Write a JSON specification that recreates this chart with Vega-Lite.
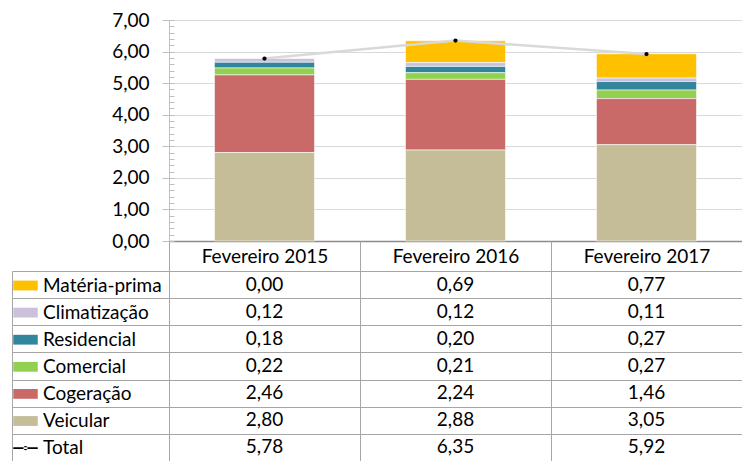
{
  "$schema": "https://vega.github.io/schema/vega-lite/v6.json",
  "padding": {"left": 11, "top": 11, "right": 0, "bottom": 0},
  "config": {
    "view": {"stroke": null},
    "locale": {"number": {"decimal": ",", "thousands": ".", "grouping": [3], "currency": ["R$", ""]}},
    "font": "Lato",
    "axis": {"labelFont": "Lato", "labelFontSize": 19, "labelColor": "#000000"}
  },
  "datasets": {
    "d": [
      {"cat": "Fevereiro 2015", "serie": "Matéria-prima", "valor": 0.00},
      {"cat": "Fevereiro 2015", "serie": "Climatização", "valor": 0.12},
      {"cat": "Fevereiro 2015", "serie": "Residencial", "valor": 0.18},
      {"cat": "Fevereiro 2015", "serie": "Comercial", "valor": 0.22},
      {"cat": "Fevereiro 2015", "serie": "Cogeração", "valor": 2.46},
      {"cat": "Fevereiro 2015", "serie": "Veicular", "valor": 2.80},
      {"cat": "Fevereiro 2015", "serie": "Total", "valor": 5.78},
      {"cat": "Fevereiro 2016", "serie": "Matéria-prima", "valor": 0.69},
      {"cat": "Fevereiro 2016", "serie": "Climatização", "valor": 0.12},
      {"cat": "Fevereiro 2016", "serie": "Residencial", "valor": 0.20},
      {"cat": "Fevereiro 2016", "serie": "Comercial", "valor": 0.21},
      {"cat": "Fevereiro 2016", "serie": "Cogeração", "valor": 2.24},
      {"cat": "Fevereiro 2016", "serie": "Veicular", "valor": 2.88},
      {"cat": "Fevereiro 2016", "serie": "Total", "valor": 6.35},
      {"cat": "Fevereiro 2017", "serie": "Matéria-prima", "valor": 0.77},
      {"cat": "Fevereiro 2017", "serie": "Climatização", "valor": 0.11},
      {"cat": "Fevereiro 2017", "serie": "Residencial", "valor": 0.27},
      {"cat": "Fevereiro 2017", "serie": "Comercial", "valor": 0.27},
      {"cat": "Fevereiro 2017", "serie": "Cogeração", "valor": 1.46},
      {"cat": "Fevereiro 2017", "serie": "Veicular", "valor": 3.05},
      {"cat": "Fevereiro 2017", "serie": "Total", "valor": 5.92}
    ]
  },
  "spacing": 30,
  "bounds": "flush",
  "resolve": {
    "scale": {"color": "independent", "shape": "independent"},
    "legend": {"color": "independent", "shape": "independent"}
  },
  "vconcat": [
    {
      "width": 573,
      "height": 221,
      "data": {"name": "d"},
      "layer": [
        {
          "transform": [
            {"filter": "datum.serie !== 'Total'"},
            {"calculate": "indexof(['Veicular', 'Cogeração', 'Comercial', 'Residencial', 'Climatização', 'Matéria-prima'], datum.serie)", "as": "ordem"}
          ],
          "mark": {"type": "bar", "stroke": "#ffffff", "strokeWidth": 0.6},
          "encoding": {
            "x": {"field": "cat", "type": "nominal", "scale": {"paddingInner": 0.476, "paddingOuter": 0.238},
              "axis": {"title": null, "labels": false, "ticks": false, "domain": true, "domainColor": "#8c8c8c", "domainWidth": 1.3, "grid": false}},
            "y": {"field": "valor", "type": "quantitative", "stack": "zero", "scale": {"domain": [0, 7], "nice": false},
              "axis": {"orient": "left", "title": null, "values": [0, 1, 2, 3, 4, 5, 6, 7], "format": ".2f", "tickSize": 7, "labelPadding": 13, "tickColor": "#bfbfbf", "domainColor": "#bfbfbf", "grid": true, "gridColor": "#d9d9d9"}},
            "color": {"field": "serie", "type": "nominal",
              "scale": {"domain": ["Veicular", "Cogeração", "Comercial", "Residencial", "Climatização", "Matéria-prima"],
                "range": ["#c4bd97", "#c96a69", "#92d050", "#31859c", "#ccc1da", "#ffc000"]},
              "legend": null},
            "order": {"field": "ordem", "type": "quantitative", "sort": "ascending"}
          }
        },
        {
          "transform": [{"filter": "datum.serie === 'Total'"}],
          "mark": {"type": "line", "color": "#d9d9d9", "strokeWidth": 2.5},
          "encoding": {
            "x": {"field": "cat", "type": "nominal"},
            "y": {"field": "valor", "type": "quantitative",
              "axis": {"orient": "left", "title": null, "labels": false, "domain": false, "grid": false, "tickSize": -5, "tickColor": "#bfbfbf",
                "values": [0, 0.2, 0.4, 0.6, 0.8, 1, 1.2, 1.4, 1.6, 1.8, 2, 2.2, 2.4, 2.6, 2.8, 3, 3.2, 3.4, 3.6, 3.8, 4, 4.2, 4.4, 4.6, 4.8, 5, 5.2, 5.4, 5.6, 5.8, 6, 6.2, 6.4, 6.6, 6.8, 7]}}
          }
        },
        {
          "transform": [{"filter": "datum.serie === 'Total'"}],
          "mark": {"type": "point", "filled": true, "color": "#000000", "size": 18, "opacity": 1},
          "encoding": {
            "x": {"field": "cat", "type": "nominal"},
            "y": {"field": "valor", "type": "quantitative", "axis": null}
          }
        }
      ],
      "resolve": {"axis": {"y": "independent"}}
    },
    {
      "width": 573,
      "height": 190,
      "data": {"name": "d"},
      "encoding": {
        "x": {"field": "cat", "type": "nominal", "scale": {"type": "band", "paddingInner": 0, "paddingOuter": 0},
          "axis": {"orient": "top", "title": null, "labelAngle": 0, "tickBand": "extent", "tickSize": 30, "tickColor": "#a6a6a6", "labelPadding": -21, "labelBaseline": "alphabetic", "domain": false, "grid": true, "gridColor": "#a6a6a6"}},
        "y": {"field": "serie", "type": "nominal",
          "sort": ["Matéria-prima", "Climatização", "Residencial", "Comercial", "Cogeração", "Veicular", "Total"],
          "scale": {"type": "band", "paddingInner": 0, "paddingOuter": 0},
          "axis": {"orient": "left", "title": null, "labels": false, "offset": 157, "tickSize": -157, "tickBand": "extent", "tickColor": "#a6a6a6", "domainColor": "#a6a6a6", "grid": true, "gridColor": "#a6a6a6"}}
      },
      "layer": [
        {
          "mark": {"type": "text", "fontSize": 19, "font": "Lato", "color": "#000000"},
          "encoding": {"text": {"field": "valor", "type": "quantitative", "format": ".2f"}}
        },
        {
          "transform": [{"filter": "false"}],
          "mark": {"type": "point", "filled": true, "opacity": 1},
          "encoding": {
            "color": {"field": "serie", "type": "nominal", "title": null,
              "scale": {"domain": ["Matéria-prima", "Climatização", "Residencial", "Comercial", "Cogeração", "Veicular", "Total"],
                "range": ["#ffc000", "#ccc1da", "#31859c", "#92d050", "#c96a69", "#c4bd97", "#000000"]},
              "legend": {"orient": "none", "legendX": -156, "legendY": 2, "symbolSize": 600, "labelFont": "Lato", "labelFontSize": 19, "labelColor": "#000000", "rowPadding": 4.1, "labelOffset": 5, "padding": 0, "symbolStrokeWidth": 0, "symbolOpacity": 1, "labelLimit": 0, "direction": "vertical"}},
            "shape": {"field": "serie", "type": "nominal", "title": null,
              "scale": {"domain": ["Matéria-prima", "Climatização", "Residencial", "Comercial", "Cogeração", "Veicular", "Total"],
                "range": ["M-1,-0.4H1V0.4H-1Z", "M-1,-0.4H1V0.4H-1Z", "M-1,-0.4H1V0.4H-1Z", "M-1,-0.4H1V0.4H-1Z", "M-1,-0.4H1V0.4H-1Z", "M-1,-0.4H1V0.4H-1Z",
                  "M-1,-0.07H1V0.07H-1Z M-0.17,0A0.17,0.17,0,1,0,0.17,0A0.17,0.17,0,1,0,-0.17,0Z"]}}
          }
        }
      ]
    }
  ]
}
